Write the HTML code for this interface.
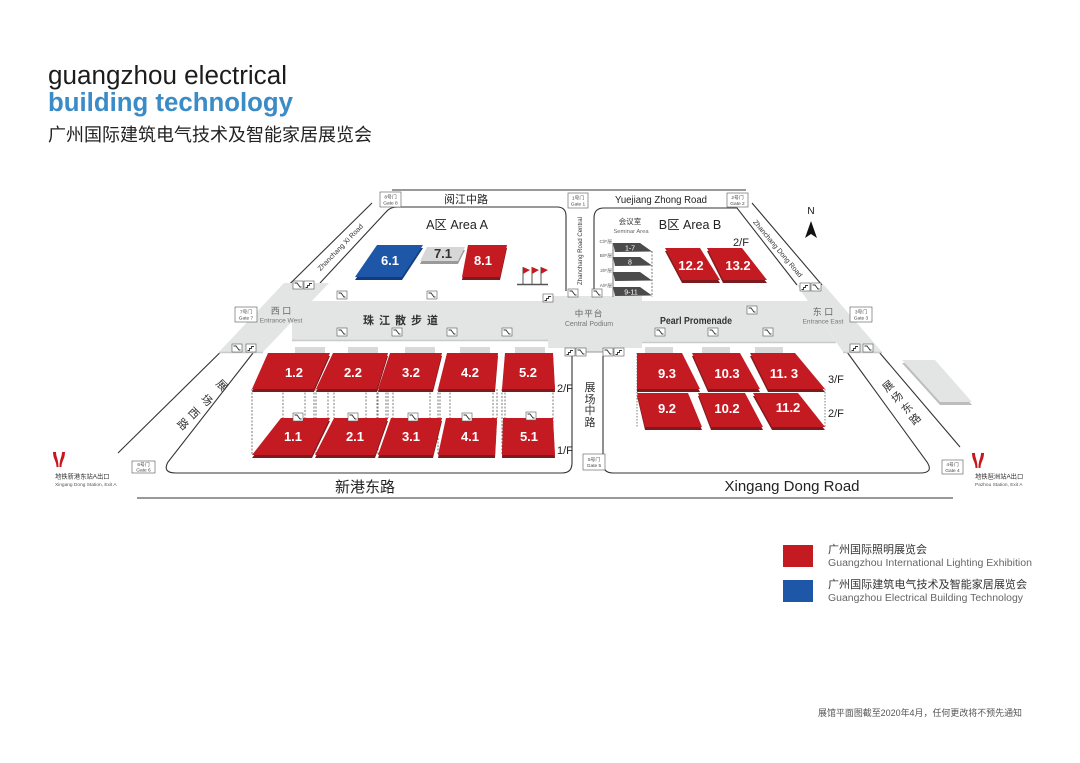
<!DOCTYPE html>
<html><head><meta charset="utf-8">
<style>
html,body{margin:0;padding:0;background:#fff;width:1080px;height:763px;overflow:hidden;}
svg{display:block;}
text{font-family:"Liberation Sans","Noto Sans CJK SC",sans-serif;}
</style></head><body>
<svg width="1080" height="763" viewBox="0 0 1080 763" xmlns="http://www.w3.org/2000/svg">
<defs>
<g id="ie"><rect x="-5" y="-4" width="10" height="8" fill="#fff" stroke="#555" stroke-width="0.6"/><path d="M-3.5,-2 L-1,-2 L2,2 L3.5,2" fill="none" stroke="#333" stroke-width="0.9"/></g>
<g id="is"><rect x="-5" y="-4" width="10" height="8" fill="#fff" stroke="#555" stroke-width="0.6"/><path d="M-3.5,2.5 L-1.5,2.5 L-1.5,0.5 L0.5,0.5 L0.5,-1.5 L3,-1.5" fill="none" stroke="#333" stroke-width="0.9"/></g>
<g id="metro" fill="#c8161d"><path d="M0,0 L3,0 C3,5 5.5,7 5.5,15 L3.5,15 C3.5,9 0,7 0,0 Z"/><path d="M12,0 L9,0 C9,5 6.5,7 6.5,15 L8.5,15 C8.5,9 12,7 12,0 Z"/></g>
</defs>

<!-- Title -->
<text x="48" y="84" font-size="25.5" fill="#1c1c1c" textLength="239" lengthAdjust="spacingAndGlyphs">guangzhou electrical</text>
<text x="48" y="111" font-size="25.5" font-weight="bold" fill="#3a8bc6" textLength="245" lengthAdjust="spacingAndGlyphs">building technology</text>
<text x="48" y="141" font-size="18" fill="#222" textLength="324" lengthAdjust="spacingAndGlyphs">广州国际建筑电气技术及智能家居展览会</text>

<!-- Roads -->
<g fill="none" stroke="#333" stroke-width="1.1">
<path d="M392 190 H746"/>
<path d="M372 203 L118 453"/>
<path d="M752 203 L960 447"/>
<path d="M320 283 L386 212 Q390 207 397 207 H557 Q566 207 566 216 V291"/>
<path d="M594 291 V218 Q594 208 604 208 H737 L797 285"/>
<path d="M253 353 L168 462 Q162 473 176 473 H562 Q572 473 572 463 V356"/>
<path d="M603 356 V463 Q603 473 613 473 H920 Q934 473 927 462 L847 352"/>
<path d="M137 498 H953"/>
</g>

<!-- Walkways -->
<g fill="#e3e4e4">
<polygon points="284,283 329,283 263,352 219,352"/>
<rect x="292" y="301" width="268" height="39"/>
<rect x="548" y="296" width="94" height="52"/>
<rect x="567" y="347" width="55" height="5"/>
<polygon points="640,301 808,301 836,342 620,342"/>
<polygon points="797,285 824,285 882,352 843,352"/>
</g>
<g stroke="#c9caca" stroke-width="1.5" fill="none">
<path d="M292 340.5 H548"/>
<path d="M642 342.5 H836"/>
<path d="M219 352.5 H263"/>
<path d="M843 352.5 H882"/>
</g>
<path d="M568 352 H622" stroke="#999" stroke-width="1"/>

<!-- Area A halls -->
<polygon points="377,248 423,248 402,280 355,280" fill="#123d7a"/>
<polygon points="377,245 423,245 402,277 355,277" fill="#1e56a8"/>
<polygon points="427,250 465,250 458,264 420,264" fill="#9a9a9a"/>
<polygon points="427,247 465,247 458,261 420,261" fill="#d7d7d7"/>
<polygon points="468,248 507,248 500,280 462,280" fill="#7d1a1d"/>
<polygon points="468,245 507,245 500,277 462,277" fill="#c41a22"/>
<g font-size="13" font-weight="bold" text-anchor="middle">
<text x="390" y="265" fill="#fff">6.1</text>
<text x="443" y="258" fill="#333">7.1</text>
<text x="483" y="265" fill="#fff">8.1</text>
</g>
<!-- flags -->
<g stroke="#555" stroke-width="1">
<path d="M523 267 V284 M532 267 V284 M541 267 V284"/>
<path d="M517 284.5 H548" stroke-width="1.5"/>
</g>
<g fill="#c41a22">
<polygon points="523,267 530,270 523,274"/>
<polygon points="532,267 539,270 532,274"/>
<polygon points="541,267 548,270 541,274"/>
</g>

<!-- Area B halls -->
<polygon points="665,251 700,251 720,283 682,283" fill="#7d1a1d"/>
<polygon points="665,248 700,248 720,280 682,280" fill="#c41a22"/>
<polygon points="707,251 742,251 767,283 723,283" fill="#7d1a1d"/>
<polygon points="707,248 742,248 767,280 723,280" fill="#c41a22"/>
<g font-size="13" font-weight="bold" text-anchor="middle" fill="#fff">
<text x="691" y="270">12.2</text>
<text x="738" y="270">13.2</text>
</g>
<text x="741" y="246" font-size="11" text-anchor="middle" fill="#222">2/F</text>

<!-- Seminar stack -->
<path d="M613 243 V297" stroke="#555" stroke-width="0.8"/>
<path d="M652 251 V297" stroke="#555" stroke-width="0.8" stroke-dasharray="2,1.5"/>
<g fill="#4b4b4b">
<polygon points="613,243 640,243 652,251.5 615,252"/>
<polygon points="613,257 640,257 652,265.5 615,266"/>
<polygon points="613,272 640,272 652,280.5 615,281"/>
<polygon points="613,287 640,287 652,295.5 615,296"/>
</g>
<g font-size="7" fill="#fff" text-anchor="middle">
<text x="630" y="250.5">1-7</text>
<text x="630" y="264.5">8</text>
<text x="631" y="294.5">9-11</text>
</g>
<g font-size="4.8" fill="#555" text-anchor="end">
<text x="612" y="243">C/F层</text>
<text x="612" y="257">B/F层</text>
<text x="612" y="272">2/F层</text>
<text x="612" y="287">A/F层</text>
</g>
<text x="630" y="224" font-size="7.5" text-anchor="middle" fill="#333">会议室</text>
<text x="631" y="233" font-size="5.8" text-anchor="middle" fill="#666">Seminar Area</text>

<!-- N arrow -->
<text x="811" y="214" font-size="10" text-anchor="middle" fill="#111">N</text>
<polygon points="811,221 817,238 811,234 805,238" fill="#111"/>

<!-- caps -->
<g fill="#d9d9d9">
<rect x="295" y="347" width="30" height="6"/>
<rect x="348" y="347" width="30" height="6"/>
<rect x="405" y="347" width="30" height="6"/>
<rect x="460" y="347" width="30" height="6"/>
<rect x="515" y="347" width="30" height="6"/>
<rect x="645" y="347" width="28" height="6"/>
<rect x="702" y="347" width="28" height="6"/>
<rect x="755" y="347" width="28" height="6"/>
</g>
<!-- dashed columns -->
<g stroke="#444" stroke-width="0.7" stroke-dasharray="2,1.5" fill="none">
<path d="M252 389 V455 M283 389 V418 M305 389 V418 M314 389 V418 M328 389 V418"/>
<path d="M316 389 V455 M334 389 V418 M366 389 V418 M377 389 V418 M388 389 V418"/>
<path d="M378 389 V455 M386 389 V418 M393 389 V418 M430 389 V418 M440 389 V418"/>
<path d="M438 389 V455 M450 389 V418 M493 389 V418 M497 389 V418"/>
<path d="M502 389 V455 M505 389 V418 M553 389 V455"/>
<path d="M637 353 V428 M825 389 V428" stroke-dasharray="1.5,1.5"/>
</g>
<!-- shadows -->
<g fill="#7d1a1d">
<polygon points="268,356 330,356 314,392 252,392"/>
<polygon points="333,356 388,356 377,392 316,392"/>
<polygon points="390,356 442,356 433,392 378,392"/>
<polygon points="447,356 498,356 495,392 438,392"/>
<polygon points="505,356 553,356 555,392 502,392"/>
<polygon points="281,421 330,421 312,458 252,458"/>
<polygon points="334,421 388,421 375,458 315,458"/>
<polygon points="391,421 442,421 433,458 378,458"/>
<polygon points="446,421 497,421 495,458 438,458"/>
<polygon points="503,421 553,421 555,458 502,458"/>
<polygon points="637,356 682,356 700,392 637,392"/>
<polygon points="692,356 740,356 760,392 708,392"/>
<polygon points="750,356 795,356 825,392 768,392"/>
<polygon points="637,396 688,396 702,430 645,430"/>
<polygon points="698,396 745,396 763,430 711,430"/>
<polygon points="753,396 798,396 825,430 772,430"/>
</g>
<g fill="#c41a22">
<polygon points="268,353 330,353 314,389 252,389"/>
<polygon points="333,353 388,353 377,389 316,389"/>
<polygon points="390,353 442,353 433,389 378,389"/>
<polygon points="447,353 498,353 495,389 438,389"/>
<polygon points="505,353 553,353 555,389 502,389"/>
<polygon points="281,418 330,418 312,455 252,455"/>
<polygon points="334,418 388,418 375,455 315,455"/>
<polygon points="391,418 442,418 433,455 378,455"/>
<polygon points="446,418 497,418 495,455 438,455"/>
<polygon points="503,418 553,418 555,455 502,455"/>
<polygon points="637,353 682,353 700,389 637,389"/>
<polygon points="692,353 740,353 760,389 708,389"/>
<polygon points="750,353 795,353 825,389 768,389"/>
<polygon points="637,393 688,393 702,427 645,427"/>
<polygon points="698,393 745,393 763,427 711,427"/>
<polygon points="753,393 798,393 825,427 772,427"/>
</g>
<g font-size="13" font-weight="bold" text-anchor="middle" fill="#fff">
<text x="294" y="377">1.2</text>
<text x="353" y="377">2.2</text>
<text x="411" y="377">3.2</text>
<text x="470" y="377">4.2</text>
<text x="528" y="377">5.2</text>
<text x="293" y="441">1.1</text>
<text x="355" y="441">2.1</text>
<text x="411" y="441">3.1</text>
<text x="470" y="441">4.1</text>
<text x="529" y="441">5.1</text>
<text x="667" y="378">9.3</text>
<text x="727" y="378">10.3</text>
<text x="784" y="378">11. 3</text>
<text x="667" y="413">9.2</text>
<text x="727" y="413">10.2</text>
<text x="788" y="412">11.2</text>
</g>
<g font-size="11" fill="#222">
<text x="557" y="392">2/F</text>
<text x="557" y="454">1/F</text>
<text x="828" y="383">3/F</text>
<text x="828" y="417">2/F</text>
</g>

<!-- Right grey block -->
<polygon points="902,363 935,363 972,405 940,405" fill="#bdbdbd"/>
<polygon points="902,360 935,360 972,402 940,402" fill="#e3e4e4"/>

<!-- Icons -->
<use href="#ie" x="298" y="285"/><use href="#is" x="309" y="285"/>
<use href="#ie" x="342" y="295"/><use href="#ie" x="432" y="295"/>
<use href="#is" x="548" y="298"/><use href="#ie" x="573" y="293"/><use href="#ie" x="597" y="293"/>
<use href="#ie" x="752" y="310"/>
<use href="#is" x="805" y="287"/><use href="#ie" x="816" y="287"/>
<use href="#ie" x="342" y="332"/><use href="#ie" x="397" y="332"/><use href="#ie" x="452" y="332"/><use href="#ie" x="507" y="332"/>
<use href="#ie" x="660" y="332"/><use href="#ie" x="713" y="332"/><use href="#ie" x="768" y="332"/>
<use href="#ie" x="237" y="348"/><use href="#is" x="251" y="348"/>
<use href="#is" x="855" y="348"/><use href="#ie" x="868" y="348"/>
<use href="#is" x="570" y="352"/><use href="#ie" x="581" y="352"/><use href="#ie" x="608" y="352"/><use href="#is" x="619" y="352"/>
<use href="#ie" x="298" y="417"/><use href="#ie" x="353" y="417"/><use href="#ie" x="413" y="417"/><use href="#ie" x="467" y="417"/><use href="#ie" x="531" y="416"/>

<!-- Gate boxes -->
<g fill="#fff" stroke="#555" stroke-width="0.6">
<rect x="380" y="192" width="21" height="15"/>
<rect x="568" y="193" width="20" height="15"/>
<rect x="727" y="193" width="21" height="14"/>
<rect x="235" y="307" width="22" height="15"/>
<rect x="850" y="307" width="22" height="15"/>
<rect x="132" y="461" width="23" height="12"/>
<rect x="583" y="454" width="22" height="16"/>
<rect x="942" y="460" width="21" height="14"/>
</g>
<g font-size="4.8" fill="#444" text-anchor="middle">
<text x="390.5" y="198.5">8号门</text><text x="390.5" y="204.5">Gate 8</text>
<text x="578" y="199.5">1号门</text><text x="578" y="205.5">Gate 1</text>
<text x="737.5" y="199">2号门</text><text x="737.5" y="205">Gate 2</text>
<text x="246" y="313.5">7号门</text><text x="246" y="319.5">Gate 7</text>
<text x="861" y="313.5">3号门</text><text x="861" y="319.5">Gate 3</text>
<text x="143.5" y="466">6号门</text><text x="143.5" y="471.5">Gate 6</text>
<text x="594" y="461">5号门</text><text x="594" y="467">Gate 5</text>
<text x="952.5" y="466">4号门</text><text x="952.5" y="472">Gate 4</text>
</g>

<!-- Road & area labels -->
<text x="466" y="203" font-size="11" text-anchor="middle" fill="#222">阅江中路</text>
<text x="661" y="203" font-size="10" text-anchor="middle" fill="#222" textLength="92" lengthAdjust="spacingAndGlyphs">Yuejiang Zhong Road</text>
<text x="457" y="229" font-size="12.5" text-anchor="middle" fill="#222">A区  Area A</text>
<text x="690" y="229" font-size="12.5" text-anchor="middle" fill="#222">B区  Area B</text>
<text transform="translate(342,249) rotate(-46)" font-size="7" text-anchor="middle" fill="#333">Zhanchang Xi Road</text>
<text transform="translate(776,250) rotate(50)" font-size="7" text-anchor="middle" fill="#333">Zhanchang Dong Road</text>
<text transform="translate(582,251) rotate(-90)" font-size="6.5" text-anchor="middle" fill="#333" textLength="68" lengthAdjust="spacingAndGlyphs">Zhanchang Road Central</text>

<text x="281" y="314" font-size="9" text-anchor="middle" fill="#666">西 口</text>
<text x="281" y="322.5" font-size="6.5" text-anchor="middle" fill="#777">Entrance West</text>
<text x="823" y="315" font-size="9" text-anchor="middle" fill="#666">东 口</text>
<text x="823" y="323.5" font-size="6.5" text-anchor="middle" fill="#777">Entrance East</text>
<text x="403" y="324" font-size="11" font-weight="bold" text-anchor="middle" fill="#333" letter-spacing="5">珠江散步道</text>
<text x="589" y="316.5" font-size="8.5" text-anchor="middle" fill="#666" letter-spacing="1">中平台</text>
<text x="589" y="326" font-size="7" text-anchor="middle" fill="#777">Central Podium</text>
<text x="696" y="324" font-size="10" font-weight="bold" text-anchor="middle" fill="#333" textLength="72" lengthAdjust="spacingAndGlyphs">Pearl Promenade</text>

<g font-size="11" text-anchor="middle" fill="#333">
<text x="590" y="391">展</text>
<text x="590" y="403">场</text>
<text x="590" y="414">中</text>
<text x="590" y="426">路</text>
</g>
<g font-size="11" text-anchor="middle" fill="#333">
<text transform="translate(222,385) rotate(45)" y="4">展</text>
<text transform="translate(207,400) rotate(45)" y="4">场</text>
<text transform="translate(194,413) rotate(45)" y="4">西</text>
<text transform="translate(183,424) rotate(45)" y="4">路</text>
<text transform="translate(888,386) rotate(-40)" y="4">展</text>
<text transform="translate(897,397) rotate(-40)" y="4">场</text>
<text transform="translate(907,408) rotate(-40)" y="4">东</text>
<text transform="translate(915,419) rotate(-40)" y="4">路</text>
</g>

<text x="365" y="492" font-size="15" text-anchor="middle" fill="#222">新港东路</text>
<text x="792" y="491" font-size="15" text-anchor="middle" fill="#222" textLength="135" lengthAdjust="spacingAndGlyphs">Xingang Dong Road</text>

<!-- Metro -->
<use href="#metro" x="53" y="452"/>
<text x="55" y="478.5" font-size="6.3" fill="#333">地铁新港东站A出口</text>
<text x="55" y="486" font-size="4.8" fill="#555">Xingang Dong Station, Exit A</text>
<use href="#metro" x="972" y="453"/>
<text x="975" y="478.5" font-size="6.3" fill="#333">地铁琶洲站A出口</text>
<text x="975" y="486" font-size="4.8" fill="#555">Pazhou Station, Exit A</text>

<!-- Legend -->
<rect x="783" y="545" width="30" height="22" fill="#c41a22"/>
<rect x="783" y="580" width="30" height="22" fill="#1e56a8"/>
<text x="828" y="553" font-size="11" fill="#333">广州国际照明展览会</text>
<text x="828" y="566" font-size="10" fill="#666" textLength="204" lengthAdjust="spacingAndGlyphs">Guangzhou International Lighting Exhibition</text>
<text x="828" y="588" font-size="11" fill="#333" textLength="199" lengthAdjust="spacingAndGlyphs">广州国际建筑电气技术及智能家居展览会</text>
<text x="828" y="601" font-size="10" fill="#666" textLength="195" lengthAdjust="spacingAndGlyphs">Guangzhou Electrical Building Technology</text>

<!-- Footer -->
<text x="818" y="716" font-size="9" fill="#555" textLength="204" lengthAdjust="spacingAndGlyphs">展馆平面图截至2020年4月，任何更改将不预先通知</text>
</svg>
</body></html>
